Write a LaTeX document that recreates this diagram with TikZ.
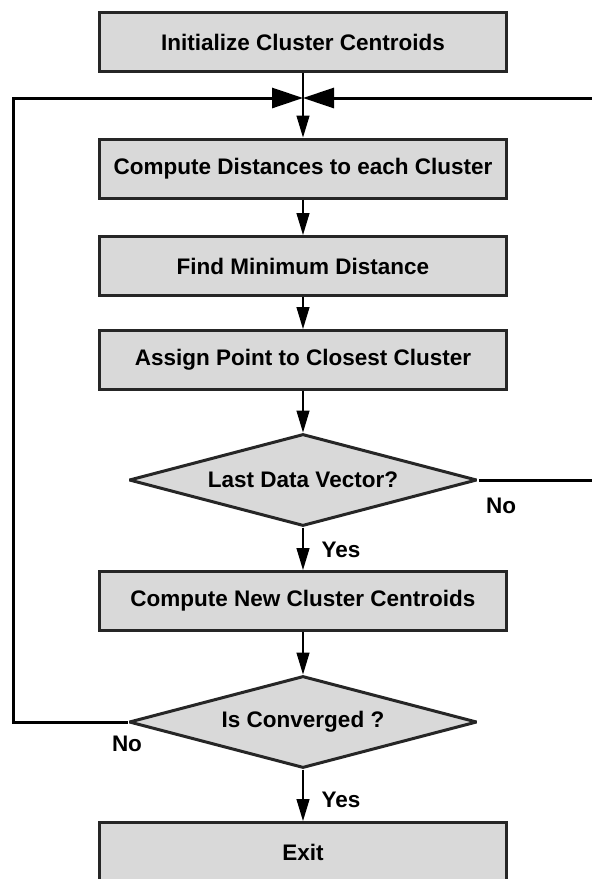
\documentclass[tikz,border=0pt]{standalone}
\usepackage{fontspec}
\setmainfont{Liberation Sans}
\usetikzlibrary{arrows.meta,shapes.geometric}
\definecolor{boxfill}{HTML}{D9D9D9}
\definecolor{boxline}{HTML}{262626}
\begin{document}
\begin{tikzpicture}[x=1pt,y=-1pt,
  every node/.style={font=\fontsize{22.5}{27}\selectfont\bfseries},
  procbox/.style={draw=boxline, line width=3pt, fill=boxfill,
    minimum width=407pt, minimum height=59pt, inner sep=0pt},
  decision/.style={diamond, aspect=4, draw=boxline, line width=3pt, fill=boxfill,
    line join=bevel, minimum width=348pt, minimum height=92pt, inner sep=0pt},
  flow/.style={line width=1.2pt, -{Triangle[length=22pt,width=13pt]}},
  loopline/.style={line width=3pt, line join=miter, -{Triangle[length=31pt,width=20pt]}},
  lbl/.style={inner sep=0pt}]
\useasboundingbox (0,0) rectangle (592,879);
\clip (0,0) rectangle (592,879);

% process steps and decisions
\node[procbox] (init) at (303,42)    {Initialize Cluster Centroids};
\node[procbox] (dist) at (303,168.5) {Compute Distances to each Cluster};
\node[procbox] (mind) at (303,266)   {Find Minimum Distance};
\node[procbox] (asgn) at (303,360)   {Assign Point to Closest Cluster};
\node[decision] (last) at (303,480)  {Last Data Vector?};
\node[procbox] (newc) at (303,601)   {Compute New Cluster Centroids};
\node[decision] (conv) at (303,722)  {Is Converged ?};
\node[procbox] (exit) at (303,852)   {Exit};

% loop return points
\coordinate (join) at (303,98);
\coordinate (lt) at (13,98);
\coordinate (lb) at (13,722);
\coordinate (rt) at (598,98);
\coordinate (rb) at (598,480);

% main flow
\draw[flow] (init) -- (dist);
\draw[flow] (dist) -- (mind);
\draw[flow] (mind) -- (asgn);
\draw[flow] (asgn) -- (last);
\draw[flow] (last) -- (newc);
\draw[flow] (newc) -- (conv);
\draw[flow] (conv) -- (exit);

% feedback loops
\draw[loopline] (conv.west) -- (lb) -- (lt) -- (join);
\draw[loopline] (last.east) -- (rb) -- (rt) -- (join);

% branch labels
\node[lbl] (no1)  at (501,506) {No};
\node[lbl] (yes1) at (341,550) {Yes};
\node[lbl] (no2)  at (127,744) {No};
\node[lbl] (yes2) at (341,800) {Yes};
\end{tikzpicture}
\end{document}
